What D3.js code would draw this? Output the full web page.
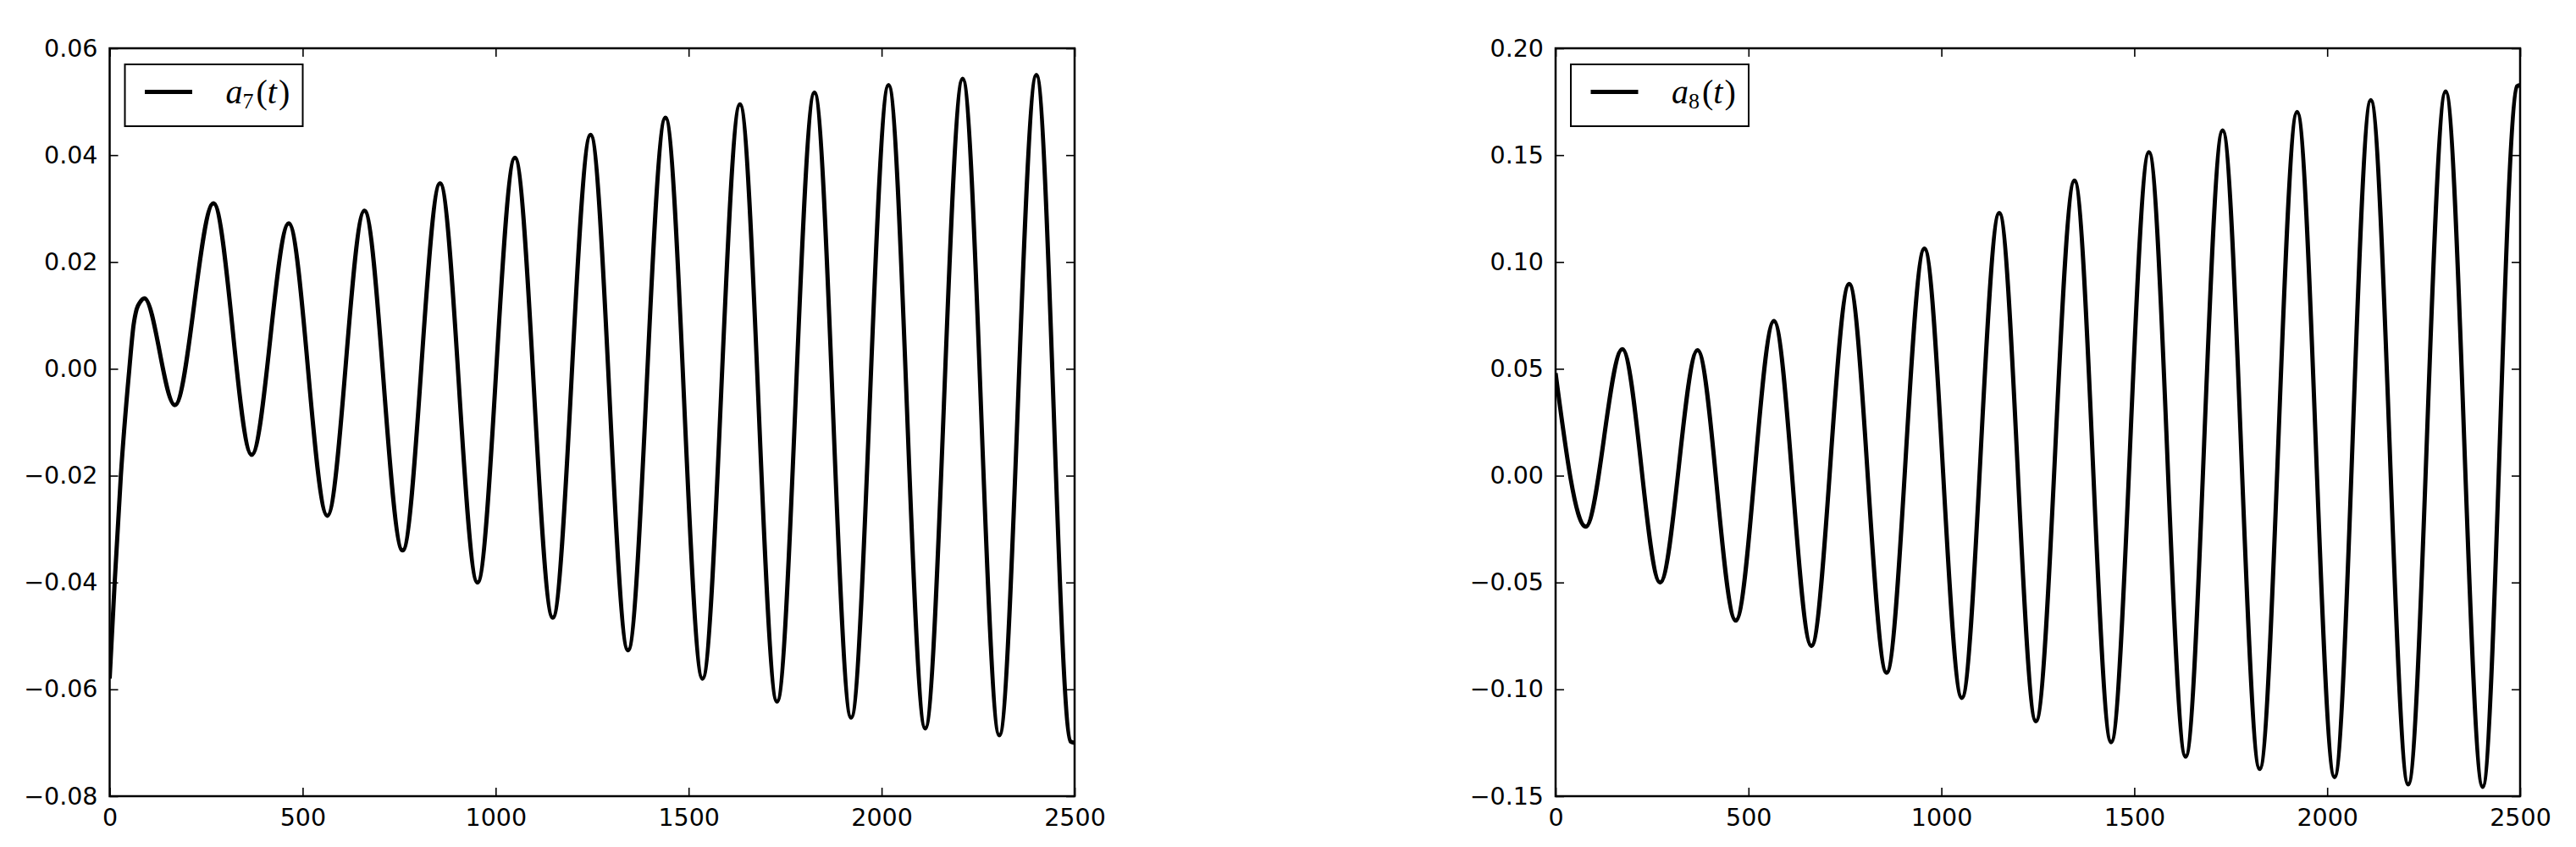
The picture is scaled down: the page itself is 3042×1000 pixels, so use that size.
<!DOCTYPE html>
<html><head><meta charset="utf-8">
<script src="https://cdn.jsdelivr.net/npm/d3@7"></script>
<style>body{margin:0;background:#fff} svg{display:block;background:#fff}</style>
</head><body>
<svg id="chart" width="3042" height="1000"></svg>
<script>
// ---- data ----
const tA7 = [0, 13, 29, 51, 62, 70, 78, 90, 169, 269, 368, 464, 564, 660, 759, 856, 953, 1050, 1148, 1246, 1343, 1440, 1536, 1633, 1729, 1826, 1921, 2018, 2113, 2210, 2305, 2401, 2490, 2500];
const valA7 = [-0.058, -0.040, -0.020, 0.000, 0.0082, 0.0112, 0.0124, 0.0132, -0.0068, 0.0310, -0.0161, 0.0272, -0.0275, 0.0296, -0.0340, 0.0347, -0.0400, 0.0395, -0.0466, 0.0438, -0.0527, 0.0470, -0.0580, 0.0495, -0.0623, 0.0517, -0.0653, 0.0531, -0.0673, 0.0543, -0.0686, 0.0550, -0.0698, -0.0700];

const tA8 = [0, 78, 173, 271, 368, 467, 566, 663, 761, 858, 956, 1053, 1150, 1245, 1345, 1440, 1538, 1633, 1729, 1825, 1922, 2019, 2113, 2210, 2307, 2403, 2492, 2500];
const valA8 = [0.048, -0.0239, 0.0592, -0.0500, 0.0587, -0.0678, 0.0724, -0.0797, 0.0897, -0.0922, 0.1063, -0.1040, 0.1229, -0.1149, 0.1381, -0.1247, 0.1513, -0.1315, 0.1616, -0.1372, 0.1702, -0.1411, 0.1757, -0.1445, 0.1798, -0.1456, 0.1822, 0.1828];

const xTicks = [0, 500, 1000, 1500, 2000, 2500];
const yTicksA7 = [-0.08, -0.06, -0.04, -0.02, 0.00, 0.02, 0.04, 0.06];
const yTicksA8 = [-0.15, -0.10, -0.05, 0.00, 0.05, 0.10, 0.15, 0.20];
const legendBase = ["a", "a"];
const legendSub = ["7", "8"];

// ---- layout ----
const svg = d3.select("#chart");
const plotTop = 57, plotBottom = 940;
const panels = [
  {left: 129.5, right: 1269, t: tA7, v: valA7, yDomain: [-0.08, 0.06], yTicks: yTicksA7, base: legendBase[0], sub: legendSub[0]},
  {left: 1837, right: 2976, t: tA8, v: valA8, yDomain: [-0.15, 0.20], yTicks: yTicksA8, base: legendBase[1], sub: legendSub[1]}
];
const tickFont = "'DejaVu Sans', sans-serif";
const tickFontSize = 28.5;

panels.forEach((p, i) => {
  const x = d3.scaleLinear().domain([0, 2500]).range([p.left, p.right]);
  const y = d3.scaleLinear().domain(p.yDomain).range([plotBottom, plotTop]);
  const g = svg.append("g");

  const clipId = "clip" + i;
  svg.append("clipPath").attr("id", clipId).append("rect")
    .attr("x", p.left).attr("y", plotTop).attr("width", p.right - p.left).attr("height", plotBottom - plotTop);

  // line
  const line = d3.line().x((d, j) => x(p.t[j])).y((d, j) => y(p.v[j])).curve(d3.curveMonotoneX);
  g.append("path").datum(p.v).attr("d", line)
    .attr("fill", "none").attr("stroke", "#000").attr("stroke-width", 5)
    .attr("stroke-linejoin", "round").attr("clip-path", `url(#${clipId})`);

  const styleAxis = (sel) => {
    sel.select(".domain").remove();
    sel.selectAll(".tick line").attr("stroke", "#000").attr("stroke-width", 1.6);
    sel.selectAll(".tick text").attr("fill", "#000").style("font-family", tickFont).style("font-size", tickFontSize + "px");
    sel.attr("font-family", null).attr("font-size", null);
  };

  g.append("g").attr("transform", `translate(0,${plotBottom})`)
    .call(d3.axisBottom(x).tickValues(xTicks).tickFormat(d3.format("d")).tickSize(-10).tickSizeOuter(0).tickPadding(15))
    .call(styleAxis);
  g.append("g").attr("transform", `translate(0,${plotTop})`)
    .call(d3.axisTop(x).tickValues(xTicks).tickFormat("").tickSize(-10).tickSizeOuter(0))
    .call(styleAxis);
  g.append("g").attr("transform", `translate(${p.left},0)`)
    .call(d3.axisLeft(y).tickValues(p.yTicks).tickFormat(d3.format(".2f")).tickSize(-10).tickSizeOuter(0).tickPadding(14))
    .call(styleAxis);
  g.append("g").attr("transform", `translate(${p.right},0)`)
    .call(d3.axisRight(y).tickValues(p.yTicks).tickFormat("").tickSize(-10).tickSizeOuter(0))
    .call(styleAxis);

  // frame
  g.append("rect").attr("x", p.left).attr("y", plotTop).attr("width", p.right - p.left).attr("height", plotBottom - plotTop)
    .attr("fill", "none").attr("stroke", "#000").attr("stroke-width", 2.5);

  // legend
  const lg = g.append("g").attr("transform", `translate(${p.left},0)`);
  lg.append("rect").attr("x", 18).attr("y", 76).attr("width", 210).attr("height", 73)
    .attr("fill", "#fff").attr("stroke", "#000").attr("stroke-width", 2);
  lg.append("line").attr("x1", 41.5).attr("x2", 97.5).attr("y1", 108.5).attr("y2", 108.5)
    .attr("stroke", "#000").attr("stroke-width", 5);
  const txt = lg.append("text").attr("x", 137).attr("y", 122)
    .style("font-family", "'Liberation Serif', 'Times New Roman', serif").style("font-size", "40px").attr("fill", "#000");
  txt.append("tspan").style("font-style", "italic").text(p.base);
  txt.append("tspan").attr("dy", 6).style("font-size", "26px").text(p.sub);
  txt.append("tspan").attr("dy", -6).attr("dx", 3).text("(");
  txt.append("tspan").style("font-style", "italic").text("t");
  txt.append("tspan").attr("dx", 2).text(")");
});
</script>
</body></html>
